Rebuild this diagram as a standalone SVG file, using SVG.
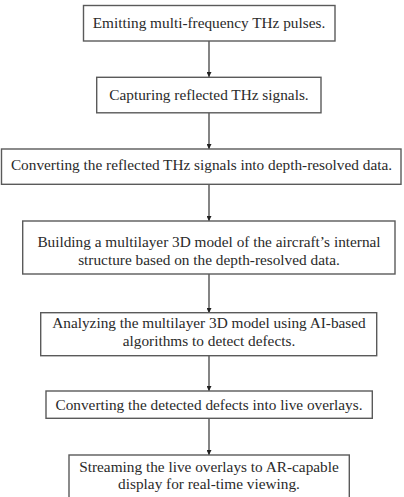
<svg xmlns="http://www.w3.org/2000/svg" width="404" height="497" viewBox="0 0 404 497">
<style>
.box{fill:#fff;stroke:#5a5a5a;stroke-width:1.4}
.t{font-family:"Liberation Serif","Times New Roman",serif;font-size:15.3px;fill:#2a2a2a;text-anchor:middle}
.c{stroke:#333;stroke-width:1.2;fill:none;marker-end:url(#ah)}
</style>
<defs>
<marker id="ah" viewBox="0 0 10 10" refX="10" refY="5" markerWidth="5" markerHeight="5" markerUnits="userSpaceOnUse" orient="auto">
<path d="M0,0 L10,5 L0,10 z" fill="#222"/>
</marker>
</defs>
<rect width="404" height="497" fill="#fff"/>
<g id="connectors">
<line class="c" x1="209" y1="41" x2="209" y2="77"/>
<line class="c" x1="209" y1="113" x2="209" y2="149"/>
<line class="c" x1="209" y1="184" x2="209" y2="221"/>
<line class="c" x1="209" y1="274" x2="209" y2="313"/>
<line class="c" x1="209" y1="356" x2="209" y2="391"/>
<line class="c" x1="209" y1="418" x2="209" y2="455"/>
</g>
<g id="n1">
<rect class="box" x="83.5" y="5.5" width="251.5" height="35.5"/>
<text class="t" x="209" y="28.3">Emitting multi-frequency THz pulses.</text>
</g>
<g id="n2">
<rect class="box" x="96.7" y="77.3" width="224.3" height="35.5"/>
<text class="t" x="209" y="100">Capturing reflected THz signals.</text>
</g>
<g id="n3">
<rect class="box" x="1.5" y="149" width="399.5" height="35.3"/>
<text class="t" x="201.5" y="169.5">Converting the reflected THz signals into depth-resolved data.</text>
</g>
<g id="n4">
<rect class="box" x="22.7" y="221" width="372.3" height="53"/>
<text class="t" x="209" y="247">Building a multilayer 3D model of the aircraft’s internal</text>
<text class="t" x="209" y="265">structure based on the depth-resolved data.</text>
</g>
<g id="n5">
<rect class="box" x="40.7" y="312.7" width="336" height="43"/>
<text class="t" x="209" y="328.3">Analyzing the multilayer 3D model using AI-based</text>
<text class="t" x="209" y="346">algorithms to detect defects.</text>
</g>
<g id="n6">
<rect class="box" x="46" y="391" width="326.3" height="27.3"/>
<text class="t" x="209" y="409.5">Converting the detected defects into live overlays.</text>
</g>
<g id="n7">
<rect class="box" x="69" y="455" width="280.3" height="50"/>
<text class="t" x="209" y="471.7">Streaming the live overlays to AR-capable</text>
<text class="t" x="209" y="489.3">display for real-time viewing.</text>
</g>
</svg>
